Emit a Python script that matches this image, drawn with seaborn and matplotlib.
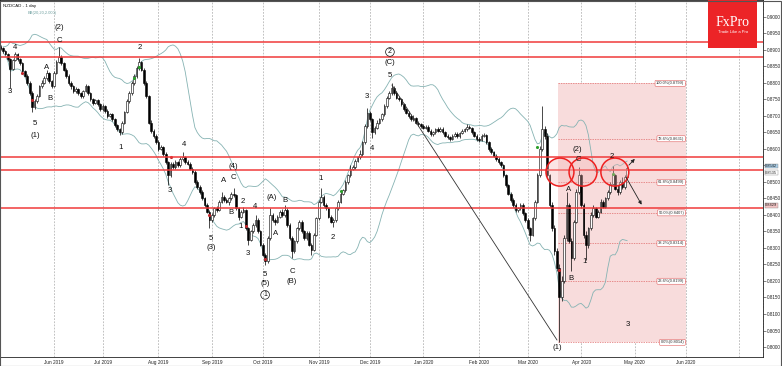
import numpy as np
import pandas as pd
import matplotlib
matplotlib.use('Agg')
import matplotlib.pyplot as plt
import seaborn as sns
from matplotlib.patches import Ellipse, Rectangle

# =============================================================================
# Data (prices stored in pips above 0.8000)
# =============================================================================
first_open = 910
close_pips = [905, 896, 888, 872, 842, 870, 888, 872, 860, 835,
              822, 800, 770, 728, 745, 762, 790, 800, 815, 830,
              805, 792, 830, 865, 880, 860, 840, 822, 800, 790,
              775, 782, 770, 760, 775, 790, 770, 750, 740, 748,
              735, 720, 730, 715, 700, 705, 690, 672, 660, 650,
              680, 712, 745, 770, 800, 820, 845, 865, 840, 800,
              760, 680, 655, 640, 620, 600, 605, 585, 560, 520,
              555, 545, 560, 550, 570, 575, 560, 555, 540, 530,
              500, 485, 470, 450, 430, 410, 385, 400, 420, 415,
              440, 455, 445, 440, 450, 465, 460, 420, 395, 410,
              415, 360, 325, 350, 370, 385, 350, 310, 280, 260,
              330, 400, 385, 380, 395, 410, 400, 415, 370, 330,
              290, 320, 360, 380, 350, 330, 345, 310, 295, 340,
              390, 440, 455, 430, 420, 395, 380, 385, 420, 440,
              465, 475, 500, 520, 540, 545, 565, 575, 585, 620,
              670, 710, 690, 650, 665, 680, 690, 705, 730, 755,
              770, 785, 770, 755, 750, 735, 720, 710, 700, 690,
              695, 680, 675, 670, 665, 668, 655, 645, 650, 660,
              655, 662, 650, 640, 635, 630, 640, 645, 638, 648,
              655, 660, 668, 665, 650, 640, 630, 628, 640, 642,
              620, 600, 590, 580, 570, 560, 550, 520, 490, 465,
              445, 430, 415, 420, 430, 405, 385, 360, 340, 390,
              440, 520, 600, 660, 640, 520, 430, 360, 290, 240,
              150, 200, 330, 430, 320, 270, 380, 470, 520, 430,
              340, 310, 360, 400, 420, 395, 410, 440, 425, 450,
              470, 495, 520, 480, 470, 500, 485, 515, 542]
high_pips = [915, 908, 900, 892, 875, 873, 894, 890, 876, 864,
             840, 826, 805, 775, 752, 768, 795, 808, 820, 839,
             834, 810, 835, 870, 909, 884, 864, 845, 826, 806,
             795, 788, 786, 774, 780, 796, 794, 774, 755, 752,
             752, 740, 735, 734, 720, 710, 708, 694, 676, 664,
             684, 716, 750, 775, 805, 826, 850, 876, 868, 845,
             805, 765, 688, 662, 646, 626, 612, 610, 590, 565,
             560, 560, 566, 564, 575, 590, 580, 566, 560, 545,
             535, 505, 490, 475, 455, 435, 415, 405, 425, 428,
             445, 470, 460, 450, 455, 470, 482, 464, 425, 415,
             424, 418, 365, 355, 375, 400, 390, 355, 315, 285,
             335, 421, 405, 392, 400, 415, 418, 430, 420, 375,
             335, 325, 365, 385, 384, 355, 350, 350, 315, 345,
             395, 445, 482, 460, 435, 425, 400, 392, 425, 445,
             473, 480, 505, 525, 552, 550, 570, 580, 597, 625,
             675, 724, 715, 695, 670, 688, 695, 710, 735, 760,
             775, 799, 790, 775, 762, 755, 740, 725, 715, 705,
             702, 698, 685, 680, 676, 672, 672, 660, 655, 665,
             666, 668, 666, 655, 645, 640, 645, 650, 650, 652,
             660, 665, 675, 672, 668, 655, 645, 635, 645, 648,
             646, 625, 605, 595, 586, 575, 565, 556, 525, 495,
             470, 450, 435, 425, 436, 435, 410, 390, 365, 395,
             445, 528, 610, 730, 670, 648, 525, 440, 370, 300,
             250, 215, 340, 470, 435, 330, 385, 480, 545, 525,
             435, 350, 365, 410, 430, 425, 415, 448, 446, 455,
             475, 500, 548, 525, 490, 505, 515, 520, 548]
low_pips = [900, 892, 884, 868, 785, 838, 866, 868, 855, 830,
            818, 795, 765, 712, 722, 740, 758, 786, 796, 810,
            800, 785, 788, 826, 860, 855, 835, 816, 795, 782,
            770, 770, 765, 754, 756, 772, 765, 745, 734, 736,
            730, 715, 716, 710, 695, 696, 685, 668, 655, 642,
            646, 676, 708, 740, 765, 795, 815, 840, 835, 795,
            755, 675, 648, 632, 614, 595, 596, 580, 555, 491,
            515, 540, 540, 545, 546, 565, 555, 550, 535, 525,
            495, 480, 465, 445, 425, 405, 361, 380, 395, 410,
            412, 436, 440, 436, 430, 446, 455, 416, 385, 390,
            405, 355, 309, 320, 345, 365, 345, 305, 275, 248,
            255, 325, 380, 370, 375, 390, 395, 395, 365, 325,
            270, 285, 315, 355, 345, 325, 325, 305, 279, 290,
            335, 385, 435, 425, 415, 390, 375, 364, 380, 415,
            435, 460, 470, 495, 515, 535, 540, 560, 570, 580,
            615, 665, 685, 633, 645, 660, 675, 685, 700, 725,
            750, 765, 765, 750, 745, 730, 715, 705, 695, 685,
            685, 676, 670, 665, 660, 660, 650, 640, 640, 645,
            650, 650, 645, 636, 630, 624, 626, 635, 633, 634,
            644, 650, 655, 660, 645, 635, 625, 620, 624, 636,
            615, 595, 585, 575, 565, 555, 545, 515, 485, 460,
            440, 425, 410, 410, 415, 400, 380, 355, 320, 335,
            385, 435, 515, 595, 630, 515, 425, 350, 280, 230,
            14, 140, 195, 320, 315, 230, 265, 375, 465, 420,
            330, 264, 300, 355, 395, 390, 390, 405, 420, 420,
            445, 465, 490, 475, 462, 465, 478, 480, 508]

# support / resistance lines
red_levels = [0.8924, 0.8880, 0.8576, 0.8536, 0.8422]

# price tags on the right axis
tag_values = [0.8542, 0.8535, 0.8429]

# fibonacci retracement of the drop
fib_low = 0.8014
fib_high = 0.8799
fib_ratios = [0.0, 0.236, 0.382, 0.5, 0.618, 0.786, 1.0]

# elliott wave labels: text, bar, price
wave_text = ['4', '3', 'A', 'B', '(2)', 'C', '5', '(1)',
             '2', '1', '3', '4', '5', '(3)',
             'A', '(4)', 'C', 'B', '2', '1', '3', '4', '5', '(5)',
             '(A)', 'A', 'B', 'C', '(B)', '1', '2',
             '3', '4', '5', '(C)',
             '(1)', 'A', 'B', '(2)', 'C', '1', '2', '3']
wave_bar = [5.9, 3.9, 19.1, 20.3, 24.0, 24.0, 14.2, 14.2,
            57.4, 49.2, 69.7, 75.5, 86.6, 86.6,
            91.6, 95.7, 95.7, 94.9, 99.8, 98.6, 101.9, 104.7, 108.9, 108.9,
            111.7, 113.0, 117.0, 120.0, 120.0, 131.9, 136.8,
            150.9, 152.9, 160.3, 160.3,
            229.1, 234.0, 234.8, 237.3, 237.7, 240.6, 251.7, 258.3]
wave_price = [0.8909, 0.8773, 0.8848, 0.8752, 0.8967, 0.8930, 0.8676, 0.8642,
              0.8909, 0.8606, 0.8473, 0.8615, 0.8330, 0.8300,
              0.8506, 0.8548, 0.8515, 0.8409, 0.8442, 0.8364, 0.8282, 0.8427, 0.8221, 0.8191,
              0.8452, 0.8345, 0.8445, 0.8230, 0.8197, 0.8512, 0.8333,
              0.8758, 0.8603, 0.8824, 0.8861,
              0.7997, 0.8476, 0.8209, 0.8597, 0.8567, 0.8258, 0.8576, 0.8067]
circled_text = ['1', '2']
circled_bar = [108.9, 160.3]
circled_price = [0.8158, 0.8894]

# signal dots
green_bar = [55, 57, 140, 221, 252]
green_price = [0.8815, 0.8848, 0.8473, 0.8606, 0.8524]
red_bar = [9, 13, 70, 86, 101, 109, 230]
red_price = [0.8830, 0.8748, 0.8576, 0.8400, 0.8367, 0.8267, 0.8233]

# =============================================================================
# Prepare data
# =============================================================================
close = 0.8 + np.array(close_pips) / 10000
high = 0.8 + np.array(high_pips) / 10000
low = 0.8 + np.array(low_pips) / 10000
opens = np.concatenate([[0.8 + first_open / 10000], close[:-1]])
x = np.arange(len(close))

bb = pd.DataFrame({'bar': x, 'close': close})
mid = bb['close'].rolling(20, min_periods=2).mean()
sd = bb['close'].rolling(20, min_periods=2).std(ddof=0)
bb['upper'] = mid + 2 * sd
bb['lower'] = mid - 2 * sd

# calendar of trading days for month gridlines
cal = pd.bdate_range('2019-05-02', '2020-07-31')
pos = pd.Series(np.arange(len(cal)), index=cal)
month_first = pos.groupby([cal.year, cal.month]).first().iloc[1:]
month_dates = [cal[i] for i in month_first.values]

# =============================================================================
# Plot
# =============================================================================
sns.set_style('white')
plt.rcParams['font.family'] = ['Liberation Sans', 'DejaVu Sans']

fig = plt.figure(figsize=(7.82, 3.66), dpi=100)
ax = fig.add_axes([0.0, 9 / 366, 763 / 782, 357 / 366])

# month gridlines
for m in month_first.values:
    ax.axvline(m, color='#a8a8a8', lw=0.5, ls=(0, (2.5, 2)), zorder=0)

# fibonacci box
ax.add_patch(Rectangle((229.5, fib_low), 282 - 229.5, fib_high - fib_low,
                       facecolor='#f8dcdc', edgecolor='none', zorder=0.5))
for r in fib_ratios:
    lv = fib_low + r * (fib_high - fib_low)
    ax.plot([229.5, 282], [lv, lv], color='#e06a6a', lw=0.5, ls=(0, (2, 1.5)), zorder=1)
    ax.text(281.5, lv, '%.1f%%(%.4f)' % (r * 100, lv), fontsize=2.9, ha='right', va='center',
            color='#333333', zorder=6,
            bbox=dict(boxstyle='round,pad=0.25', fc='white', ec='#e06060', lw=0.4))

# bollinger bands
sns.lineplot(data=bb, x='bar', y='upper', ax=ax, color='#86b3b3', lw=0.6, zorder=2)
sns.lineplot(data=bb, x='bar', y='lower', ax=ax, color='#86b3b3', lw=0.6, zorder=2)

# candles
up = close >= opens
ax.vlines(x, low, high, color='black', lw=0.5, zorder=3)
ax.bar(x[up], (close - opens)[up], bottom=opens[up], width=0.7,
       color='white', edgecolor='black', linewidth=0.4, zorder=4)
ax.bar(x[~up], (close - opens)[~up], bottom=opens[~up], width=0.7,
       color='black', edgecolor='black', linewidth=0.4, zorder=4)

ax.scatter(green_bar, green_price, s=5, color='#2ca02c', zorder=5, linewidths=0)
ax.scatter(red_bar, red_price, s=5, color='#c0282d', zorder=5, linewidths=0)

# red horizontal levels
for lv in red_levels:
    ax.axhline(lv, color='#f03a3a', lw=1.1, zorder=5)

# trend line from top of wave 2 to wave (1) low
ax.plot([161.1, 229.1], [0.8794, 0.8021], color='#333333', lw=0.6, zorder=5)

# circles on the resistance zone
for cx in [230.3, 239.8, 252.9]:
    ax.add_patch(Ellipse((cx, 0.8530), 11.5, 0.0085, facecolor='#f5b5b5', alpha=0.35,
                         edgecolor='none', zorder=5))
    ax.add_patch(Ellipse((cx, 0.8530), 11.5, 0.0085, facecolor='none',
                         edgecolor='#ee2020', lw=1.1, zorder=6))

# projected arrows
ax.annotate('', xy=(261.9, 0.8576), xytext=(257.9, 0.8545),
            arrowprops=dict(arrowstyle='-|>', color='#222222', lw=0.6, mutation_scale=5), zorder=7)
ax.annotate('', xy=(264.5, 0.8424), xytext=(257.0, 0.8521),
            arrowprops=dict(arrowstyle='-|>', color='#222222', lw=0.6, mutation_scale=5), zorder=7)

# wave labels
for t, b, p in zip(wave_text, wave_bar, wave_price):
    ax.text(b, p, t, fontsize=5.6, ha='center', va='center', color='#111111', zorder=7)
for t, b, p in zip(circled_text, circled_bar, circled_price):
    ax.text(b, p, t, fontsize=5.0, ha='center', va='center', color='#111111', zorder=7,
            bbox=dict(boxstyle='circle,pad=0.12', fc='none', ec='#111111', lw=0.5))

# axes
ax.set_xlim(-0.25, 313.9)
ax.set_ylim(0.79697, 0.90515)
ax.yaxis.tick_right()
yt = np.arange(0.80, 0.9001, 0.005)
ax.set_yticks(yt)
# the 0.8550 label sits under the price tags, as in the terminal
ax.set_yticklabels(['' if abs(v - 0.855) < 1e-6 else '%.4f' % v for v in yt])
ax.set_yticks(np.arange(0.797, 0.905, 0.001), minor=True)
ax.tick_params(axis='y', which='major', labelsize=3.3, length=2, width=0.4, pad=1,
               colors='#222222', right=True, left=False)
ax.tick_params(axis='y', which='minor', length=1, width=0.3, right=True, left=False)
ax.set_xticks(month_first.values[:-1])
ax.set_xticklabels([d.strftime('%b %Y') for d in month_dates[:-1]])
ax.tick_params(axis='x', labelsize=3.4, length=2, width=0.4, pad=0.5, colors='#222222')
ax.set_xlabel('')
ax.set_ylabel('')
for s in ax.spines.values():
    s.set_linewidth(0.6)
    s.set_color('#222222')

# highlighted price tags on the right axis (nudged apart so they stay readable)
tag_style = [('#a9cde6', 0.0007), ('white', -0.0007), ('#f2c4c4', 0.0)]
for val, (fc, dy) in zip(tag_values, tag_style):
    ax.text(1.003, val + dy, '%.4f' % val, transform=ax.get_yaxis_transform(), fontsize=2.9,
            ha='left', va='center', color='#222222', zorder=8,
            bbox=dict(boxstyle='square,pad=0.08', fc=fc, ec='#888888', lw=0.3))

# header texts
fig.text(3 / 782, 1 - 6 / 366, 'NZDCAD - 1 day', fontsize=3.2, ha='left', va='center', color='#111111')
fig.text(28 / 782, 1 - 13 / 366, 'BB(20,20,2.000)', fontsize=2.9, ha='left', va='center', color='#6fa0a0')

# logo
fig.patches.append(Rectangle((708 / 782, 1 - 48 / 366), 49 / 782, 48 / 366,
                             transform=fig.transFigure, facecolor='#ec2427', edgecolor='none', zorder=10))
fig.text(733 / 782, 1 - 22 / 366, 'FxPro', fontsize=10, family='Liberation Serif',
         ha='center', va='center', color='white', zorder=11)
fig.text(733 / 782, 1 - 32 / 366, 'Trade Like a Pro', fontsize=3.0,
         ha='center', va='center', color='white', zorder=11)

# outer frame
fig.patches.append(Rectangle((0.0005, 0.001), 0.998, 0.997, transform=fig.transFigure,
                             facecolor='none', edgecolor='#555555', lw=0.8, zorder=12))

plt.savefig('out.png', dpi=100)
